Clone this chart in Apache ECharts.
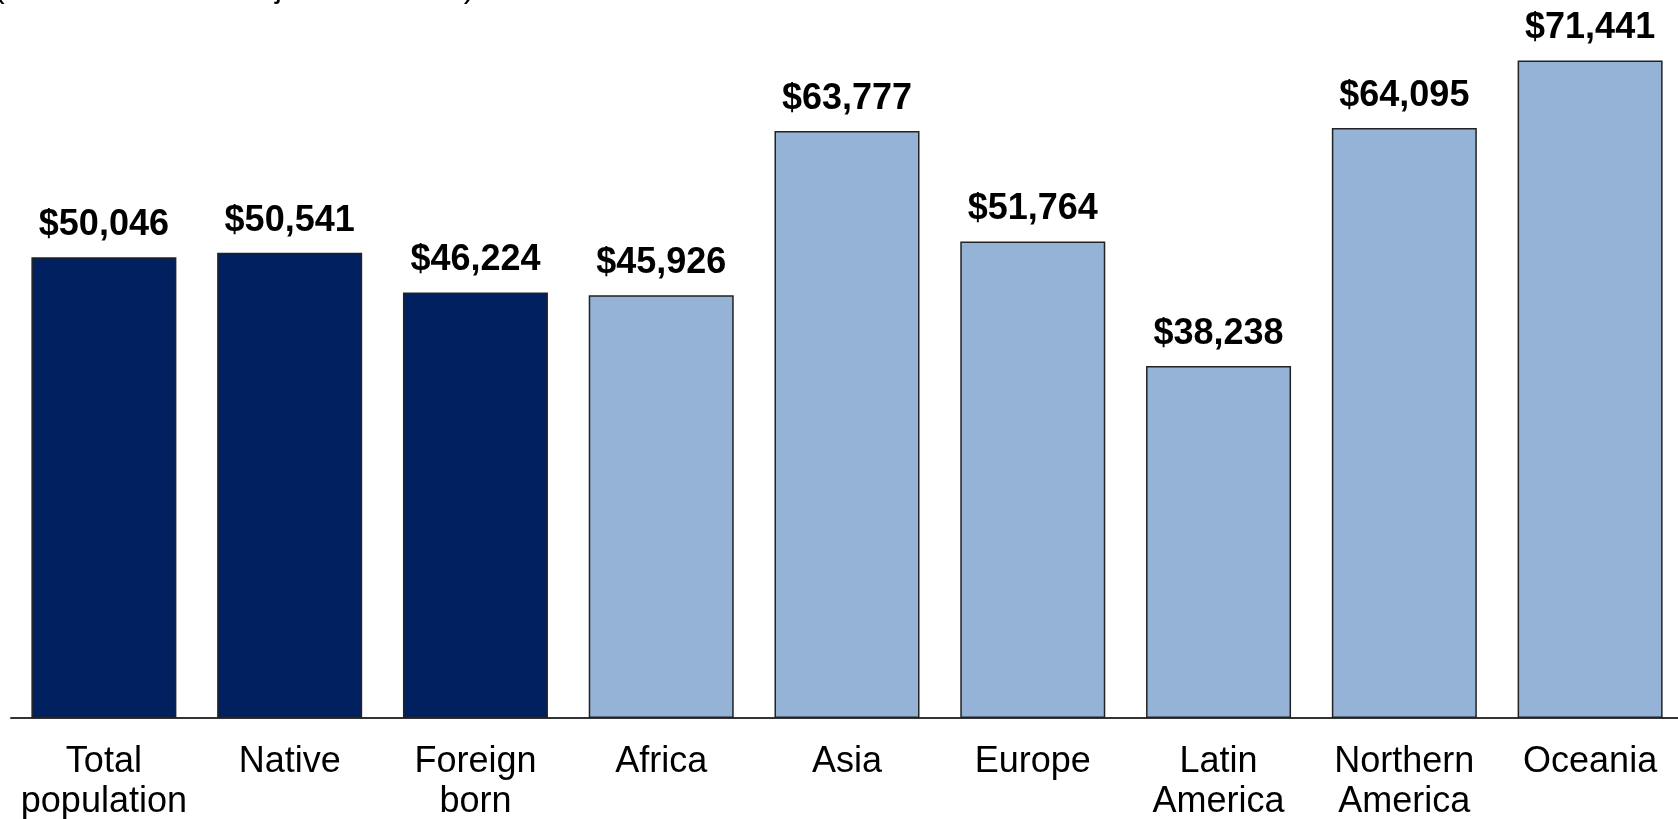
<!DOCTYPE html>
<html>
<head>
<meta charset="utf-8">
<title>Median household income</title>
<script src="https://cdn.jsdelivr.net/npm/echarts@6/dist/echarts.min.js"></script>
<style>
	html, body { margin: 0; padding: 0; background: #fff; }
	#main { width: 1678px; height: 819px; }
</style>
</head>
<body>
<div id="main"></div>
<script>
var categories = ['Total\npopulation', 'Native', 'Foreign\nborn', 'Africa', 'Asia', 'Europe', 'Latin\nAmerica', 'Northern\nAmerica', 'Oceania'];
var incomes = [50046, 50541, 46224, 45926, 63777, 51764, 38238, 64095, 71441];
// first three bars are the nativity totals, the rest are regions of birth
var nativityBars = 3;

var myChart = echarts.init(document.getElementById('main'));
var option = {
	animation: false,
	title: {
		// only the descenders of this line show at the very top
		text: '(in 2012 inflation-adjusted dollars)',
		left: -6,
		top: -28,
		padding: 0,
		textStyle: {
			fontFamily: 'Liberation Sans',
			fontSize: 32,
			fontWeight: 'normal',
			lineHeight: 32,
			color: '#000'
		}
	},
	grid: {
		left: 11,
		width: 1672,
		top: 0,
		bottom: 101,
		outerBoundsMode: 'none',
		containLabel: false
	},
	xAxis: {
		type: 'category',
		data: categories,
		axisTick: { show: false },
		axisLine: { lineStyle: { color: '#333', width: 2 } },
		axisLabel: {
			interval: 0,
			margin: 24,
			fontFamily: 'Liberation Sans',
			fontSize: 36,
			lineHeight: 40,
			color: '#000'
		}
	},
	yAxis: {
		type: 'value',
		min: 0,
		max: 78000,
		show: false,
		splitLine: { show: false }
	},
	series: [{
		type: 'bar',
		data: incomes,
		barWidth: 145,
		itemStyle: {
			color: function(p) {
				return p.dataIndex < nativityBars ? '#002060' : '#95B3D7';
			},
			borderColor: '#222',
			borderWidth: 1.5
		},
		label: {
			show: true,
			position: 'top',
			distance: 14,
			fontFamily: 'Liberation Sans',
			fontSize: 36,
			fontWeight: 'bold',
			color: '#000',
			formatter: function(p) {
				return '$' + p.value.toLocaleString('en-US');
			}
		}
	}]
};
myChart.setOption(option);
</script>
</body>
</html>
